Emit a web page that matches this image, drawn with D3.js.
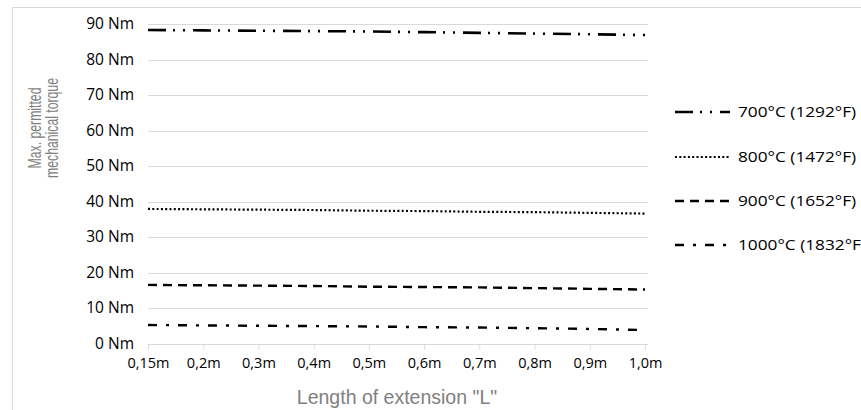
<!DOCTYPE html>
<html><head><meta charset="utf-8">
<script src="https://cdn.jsdelivr.net/npm/d3@7"></script>
<style>body{margin:0;background:#fff;overflow:hidden}</style>
</head><body><svg id="c" width="861" height="410"></svg>
<script>
const categories = ["0,15m","0,2m","0,3m","0,4m","0,5m","0,6m","0,7m","0,8m","0,9m","1,0m"];
const seriesNames = ["700°C (1292°F)","800°C (1472°F)","900°C (1652°F)","1000°C (1832°F)"];
const t700  = [88.3, 88.2, 88.1, 88.0, 87.9, 87.7, 87.5, 87.3, 87.1, 86.9];
const t800  = [37.9, 37.8, 37.7, 37.6, 37.4, 37.3, 37.1, 37.0, 36.8, 36.6];
const t900  = [16.5, 16.4, 16.3, 16.2, 16.0, 15.9, 15.8, 15.6, 15.4, 15.2];
const t1000 = [5.2, 5.1, 5.0, 4.9, 4.8, 4.6, 4.5, 4.3, 4.1, 3.8];
const yTicks = [0,10,20,30,40,50,60,70,80,90];
const yTickLabels = yTicks.map(v => v + " Nm");

const series = [t700, t800, t900, t1000];
const dashes = ["18,7,2,8,2,8", "2,2.3", "9,6", "9,9,3,9"];
const widths = [2.6, 2.2, 2.4, 2.4];

const svg = d3.select("#c");
const font = "'Open Sans', 'Noto Sans', sans-serif";

svg.append("rect").attr("x",12.5).attr("y",7.5).attr("width",1000).attr("height",1000)
  .attr("fill","none").attr("stroke","#d9d9d9");

const L = 148, R = 645, T = 24, B = 343.5;
const x = d3.scalePoint().domain(categories).range([L, R]);
const y = d3.scaleLinear().domain([0, 90]).range([B, T]);

// gridlines
svg.append("g").selectAll("line").data(yTicks.filter(v=>v>0)).join("line")
  .attr("x1", L).attr("x2", R+3).attr("y1", d=>Math.round(y(d))+0.5).attr("y2", d=>Math.round(y(d))+0.5)
  .attr("stroke","#d9d9d9").attr("stroke-width",1);

// y axis labels
const yAxis = d3.axisLeft(y).tickValues(yTicks).tickFormat((d,i)=>yTickLabels[i]).tickSize(0).tickPadding(0);
const gy = svg.append("g").attr("transform",`translate(${134},0)`).call(yAxis);
gy.select(".domain").remove();
gy.selectAll("text").attr("font-family",font).attr("font-size",15.5).attr("fill","#000");

// x axis
const xAxis = d3.axisBottom(x).tickSize(5).tickPadding(8);
const gx = svg.append("g").attr("transform",`translate(0,${Math.round(B)+0.5})`).call(xAxis);
gx.select(".domain").attr("d", `M${L},0H${R+3}`).attr("stroke","#d9d9d9");
gx.selectAll(".tick line").attr("stroke","#d9d9d9");
gx.selectAll("text").attr("font-family",font).attr("font-size",14.5).attr("fill","#000");

// lines
const line = d3.line().x((d,i)=>x(categories[i])).y(d=>y(d));
series.forEach((s,k)=>{
  svg.append("path").datum(s).attr("d", line).attr("fill","none")
    .attr("stroke","#000").attr("stroke-width",widths[k]).attr("stroke-dasharray",dashes[k]);
});

// legend
const legY = [112, 157, 201, 245];
seriesNames.forEach((n,k)=>{
  svg.append("line").attr("x1",675).attr("x2",730).attr("y1",legY[k]).attr("y2",legY[k])
    .attr("stroke","#000").attr("stroke-width",widths[k]).attr("stroke-dasharray",dashes[k]);
  svg.append("text").attr("transform",`translate(738,${legY[k]}) scale(1.15,1)`).attr("dy","0.35em").text(n)
    .attr("font-family",font).attr("font-size",15).attr("fill","#000");
});

// axis titles
svg.append("text").attr("x",397).attr("y",404).attr("text-anchor","middle")
  .attr("font-family","'Liberation Sans', Arial, sans-serif").attr("font-size",19.5).attr("fill","#808080")
  .text('Length of extension "L"');
const yt = svg.append("text").attr("transform","translate(0,128) rotate(-90) scale(0.68,1)")
  .attr("text-anchor","middle").attr("font-family","'Liberation Sans', Arial, sans-serif")
  .attr("font-size",18).attr("fill","#808080");
yt.append("tspan").attr("x",0).attr("y",41).text("Max. permitted");
yt.append("tspan").attr("x",0).attr("y",58).text("mechanical torque");
</script></body></html>
